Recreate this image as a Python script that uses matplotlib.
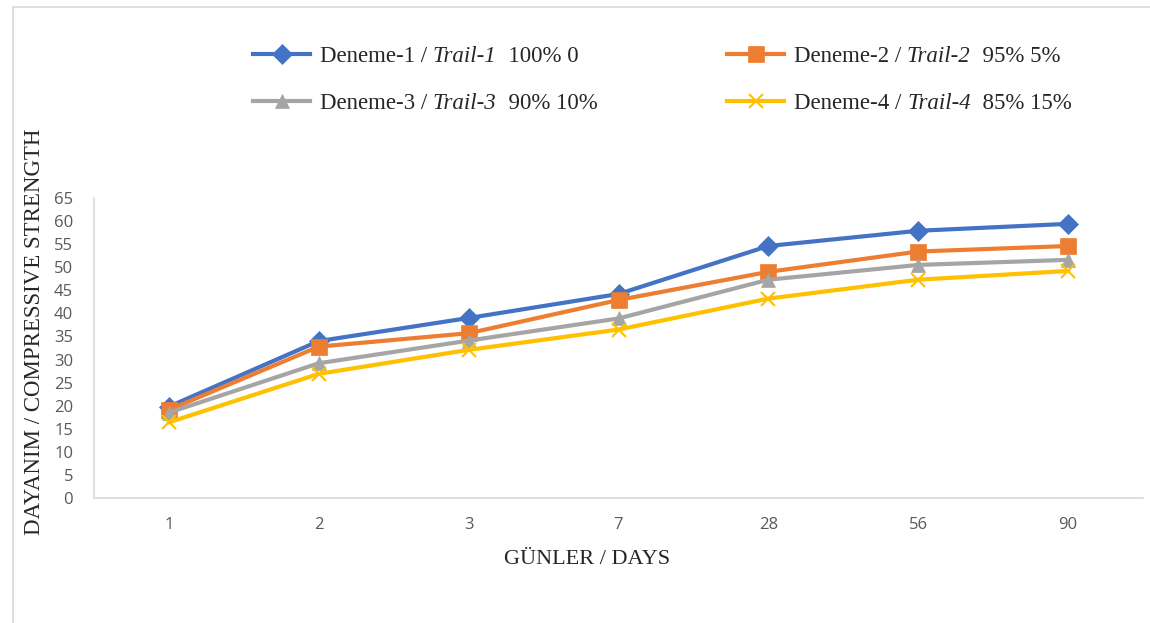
import matplotlib.pyplot as plt
from matplotlib.lines import Line2D
from matplotlib.patches import Rectangle

# Datos
dias = ['1', '2', '3', '7', '28', '56', '90']
deneme1 = [19.8, 34.0, 39.0, 44.2, 54.6, 57.9, 59.4]
deneme2 = [19.1, 32.8, 35.7, 42.9, 49.0, 53.4, 54.6]
deneme3 = [18.5, 29.2, 34.1, 38.9, 47.3, 50.5, 51.6]
deneme4 = [16.4, 26.9, 32.1, 36.5, 43.2, 47.3, 49.2]

# etiquetas: (normal, cursiva, resto)
etiquetas = [('Deneme-1 / ', 'Trail-1', '  100% 0'),
             ('Deneme-2 / ', 'Trail-2', '  95% 5%'),
             ('Deneme-3 / ', 'Trail-3', '  90% 10%'),
             ('Deneme-4 / ', 'Trail-4', '  85% 15%')]
colores = ['#4472C4', '#ED7D31', '#A5A5A5', '#FFC000']
marcadores = ['D', 's', '^', 'x']
tamanos = [10, 11, 10, 10]

serif = 'Liberation Serif'
W, H = 1150, 623

fig = plt.figure(figsize=(11.5, 6.23), dpi=100)
ax = fig.add_axes([94/W, 1-498/H, (1143-94)/W, 300/H])

# marco del gráfico
fig.patches.append(Rectangle((13/W, -0.1), 1.2, 1-7/H+0.1,
                             transform=fig.transFigure, fill=False,
                             edgecolor='#D9D9D9', linewidth=1.2))

x = list(range(len(dias)))
for serie, c, m, ms in zip([deneme1, deneme2, deneme3, deneme4],
                           colores, marcadores, tamanos):
    ax.plot(x, serie, color=c, linewidth=3, marker=m, markersize=ms,
            markeredgewidth=1.5 if m == 'x' else 0.5,
            markeredgecolor=c, markerfacecolor=c)

ax.set_xlim(-0.5, 6.5)
ax.set_ylim(0, 65)
ax.set_yticks(range(0, 66, 5))
ax.set_xticks(x)
ax.set_xticklabels(dias)
ax.tick_params(length=0, labelsize=12, labelcolor='#595959')
ax.tick_params(axis='y', pad=15)
ax.tick_params(axis='x', pad=14)
for t in ax.get_xticklabels() + ax.get_yticklabels():
    t.set_family('Open Sans')
for s in ['top', 'right']:
    ax.spines[s].set_visible(False)
for s in ['left', 'bottom']:
    ax.spines[s].set_color('#D9D9D9')
    ax.spines[s].set_linewidth(1.2)

fig.text(587/W, 1-559/H, 'GÜNLER / DAYS', ha='center', va='center',
         family=serif, fontsize=16, color='#262626')
fig.text(35/W, 1-332/H, 'DAYANIM / COMPRESSIVE STRENGTH', ha='center',
         va='center', rotation=90, family=serif, fontsize=16.5, color='#262626')

# leyenda manual (2 columnas)
pos = [(253, 54), (727, 54), (253, 101), (727, 101)]
renderer = fig.canvas.get_renderer()
for (px, py), c, m, ms, lab in zip(pos, colores, marcadores, tamanos, etiquetas):
    yf = 1 - py/H
    fig.add_artist(Line2D([px/W, (px+57)/W], [yf, yf], color=c, linewidth=3,
                          transform=fig.transFigure))
    fig.add_artist(Line2D([(px+28.5)/W], [yf], color=c, marker=m, markersize=ms,
                          markeredgewidth=1.5 if m == 'x' else 0.5,
                          markeredgecolor=c, markerfacecolor=c,
                          transform=fig.transFigure))
    xt = (px + 67)/W
    for parte, estilo in zip(lab, ['normal', 'italic', 'normal']):
        t = fig.text(xt, yf, parte, ha='left', va='center_baseline',
                     family=serif, style=estilo, fontsize=16.5, color='#262626')
        bb = t.get_window_extent(renderer)
        xt = bb.x1 / W

fig.savefig('out.png', dpi=100)
